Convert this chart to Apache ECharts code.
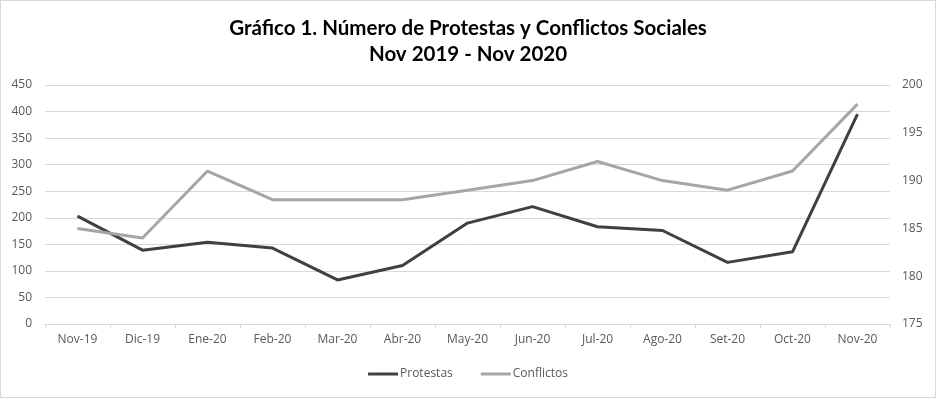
<!DOCTYPE html>
<html><head><meta charset="utf-8">
<script src="https://cdn.jsdelivr.net/npm/echarts@6/dist/echarts.min.js"></script>
<style>html,body{margin:0;padding:0;background:#fff;}#c{width:934px;height:396px;border:1px solid #d9d9d9;}</style>
</head><body><div id="c"></div>
<script>
const categories = ['Nov-19','Dic-19','Ene-20','Feb-20','Mar-20','Abr-20','May-20','Jun-20','Jul-20','Ago-20','Set-20','Oct-20','Nov-20'];
const protestas = [203, 139, 154, 143, 83, 110, 190, 221, 183, 176, 116, 136, 395];
const conflictos = [185, 184, 191, 188, 188, 188, 189, 190, 192, 190, 189, 191, 198];
const titleLines = ['Gráfico 1. Número de Protestas y Conflictos Sociales', 'Nov 2019 - Nov 2020'];

const chart = echarts.init(document.getElementById('c'), null, {renderer: 'canvas'});
const font = 'Open Sans, Lato, sans-serif';
chart.setOption({
  animation: false,
  title: {
    text: titleLines.join('\n'), left: 'center', top: 9,
    textStyle: {fontFamily: 'Lato, Open Sans, sans-serif', fontSize: 20.5, fontWeight: 'bold', color: '#000', lineHeight: 26}
  },
  legend: {
    bottom: 12, left: 'center', itemWidth: 30, itemHeight: 3, itemGap: 28,
    icon: 'rect',
    textStyle: {fontFamily: font, fontSize: 12, color: '#595959', padding: [0, 0, 0, -3]},
    data: ['Protestas', 'Conflictos']
  },
  grid: {left: 44, right: 45, top: 84, bottom: 73, containLabel: false},
  xAxis: {
    type: 'category', data: categories, boundaryGap: true,
    axisLine: {lineStyle: {color: '#d9d9d9'}},
    axisTick: {show: true, length: 4, lineStyle: {color: '#d9d9d9'}},
    axisLabel: {fontFamily: font, fontSize: 12, color: '#595959', margin: 10}
  },
  yAxis: [
    {type: 'value', min: 0, max: 450, interval: 50,
     axisLine: {show: false}, axisTick: {show: false},
     axisLabel: {fontFamily: font, fontSize: 12, color: '#595959', margin: 13},
     splitLine: {lineStyle: {color: '#d9d9d9'}}},
    {type: 'value', min: 175, max: 200, interval: 5,
     axisLine: {show: false}, axisTick: {show: false},
     axisLabel: {fontFamily: font, fontSize: 12, color: '#595959', margin: 12},
     splitLine: {show: false}}
  ],
  series: [
    {name: 'Protestas', type: 'line', yAxisIndex: 0, data: protestas, symbol: 'none',
     lineStyle: {color: '#404040', width: 3}, itemStyle: {color: '#404040'}},
    {name: 'Conflictos', type: 'line', yAxisIndex: 1, data: conflictos, symbol: 'none',
     lineStyle: {color: '#a6a6a6', width: 3}, itemStyle: {color: '#a6a6a6'}}
  ]
});
</script></body></html>
